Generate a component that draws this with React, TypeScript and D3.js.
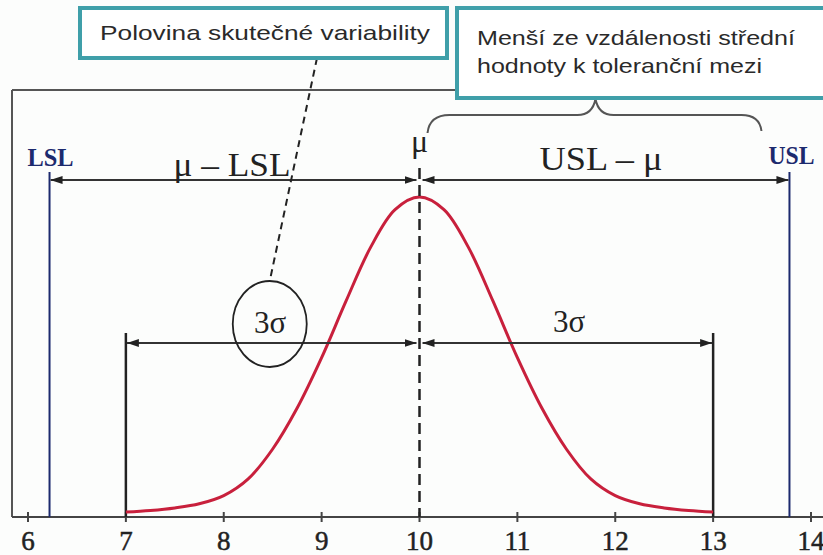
import React from "react";
import * as d3 from "d3";

// Process parameters
const MU = 10;
const LSL = 6.22;
const USL = 13.78;
const SIGMA3_LOW = 7;
const SIGMA3_HIGH = 13;

// Axis ticks
const xTicks = [6, 7, 8, 9, 10, 11, 12, 13, 14];

// Bell curve: positions and relative heights (peak = 1)
const curveX = [
  7, 7.25, 7.5, 7.75, 8, 8.25, 8.5, 8.75, 9, 9.25, 9.5, 9.75, 10,
  10.25, 10.5, 10.75, 11, 11.25, 11.5, 11.75, 12, 12.25, 12.5, 12.75, 13,
];
const curveY = [
  0.0, 0.005, 0.013, 0.026, 0.052, 0.105, 0.2, 0.33, 0.49, 0.67, 0.84, 0.96, 1,
  0.96, 0.84, 0.67, 0.49, 0.33, 0.2, 0.105, 0.052, 0.026, 0.013, 0.005, 0.0,
];

// Annotation texts
const noteLeft = "Polovina skutečné variability";
const noteRight = ["Menší ze vzdálenosti střední", "hodnoty k toleranční mezi"];

const W = 823;
const H = 555;

const TEAL = "#3f9fa9";
const INK = "#222";
const NAVY = "#1c2a6e";
const SERIF = "'Liberation Serif', 'Times New Roman', serif";
const SANS = "'Liberation Sans', Arial, sans-serif";

export default function App() {
  const x = d3.scaleLinear().domain([6, 14]).range([28, 811]);
  const y = d3.scaleLinear().domain([0, 1]).range([512, 197]);
  const axisY = 517;
  const frameLeft = 12;
  const frameTop = 90;

  const pts = curveX.map((v, i) => [v, curveY[i]] as [number, number]);
  const bell = d3
    .line<[number, number]>()
    .x((d) => x(d[0]))
    .y((d) => y(d[1]))
    .curve(d3.curveCatmullRom.alpha(0.5))(pts) as string;

  const topArrowY = 180;
  const sigArrowY = 343;
  const gap = 3;

  const braceL = x(MU) + 8;
  const braceR = x(USL) - 28;
  const braceMid = (braceL + braceR) / 2 + 1;
  const brace = `M${braceL},133 Q${braceL + 2},115 ${braceL + 22},115 L${braceMid - 18},115 Q${braceMid - 3},115 ${braceMid},99 Q${braceMid + 3},115 ${braceMid + 18},115 L${braceR - 20},115 Q${braceR - 2},115 ${braceR},131`;

  const ellipseCx = x(8.47);

  return (
    <svg
      width={W}
      height={H}
      viewBox={`0 0 ${W} ${H}`}
      style={{ position: "absolute", left: 0, top: 0, background: "#fcfdfc" }}
    >
      <defs>
        <marker
          id="arrow"
          viewBox="0 0 12 8"
          refX={12}
          refY={4}
          markerWidth={12}
          markerHeight={8}
          markerUnits="userSpaceOnUse"
          orient="auto-start-reverse"
        >
          <path d="M0,0 L12,4 L0,8 z" fill={INK} />
        </marker>
      </defs>

      {/* Frame */}
      <line x1={frameLeft} y1={frameTop} x2={frameLeft} y2={axisY} stroke="#555" strokeWidth={2} />
      <line x1={frameLeft} y1={frameTop} x2={460} y2={frameTop} stroke="#555" strokeWidth={2} />

      {/* X axis */}
      <line x1={frameLeft} y1={axisY} x2={W} y2={axisY} stroke="#444" strokeWidth={2} />
      {xTicks.map((t) => (
        <g key={t}>
          <line x1={x(t)} y1={axisY - 5} x2={x(t)} y2={axisY + 5} stroke="#444" strokeWidth={2} />
          <text
            x={x(t)}
            y={550}
            textAnchor="middle"
            fontFamily={SERIF}
            fontSize={27}
            fill={INK}
            stroke={INK}
            strokeWidth={0.5}
          >
            {t}
          </text>
        </g>
      ))}

      {/* Specification limits */}
      <line x1={x(LSL)} y1={172} x2={x(LSL)} y2={axisY} stroke={NAVY} strokeWidth={2} />
      <line x1={x(USL)} y1={172} x2={x(USL)} y2={axisY} stroke={NAVY} strokeWidth={2} />
      <text x={x(LSL) + 1} y={166} textAnchor="middle" fontFamily={SERIF} fontWeight="bold" fontSize={25} fill={NAVY} textLength={46} lengthAdjust="spacingAndGlyphs">
        LSL
      </text>
      <text x={x(USL) + 2} y={164} textAnchor="middle" fontFamily={SERIF} fontWeight="bold" fontSize={25} fill={NAVY} textLength={46} lengthAdjust="spacingAndGlyphs">
        USL
      </text>

      {/* ±3σ limits */}
      <line x1={x(SIGMA3_LOW)} y1={333} x2={x(SIGMA3_LOW)} y2={axisY} stroke={INK} strokeWidth={2.5} />
      <line x1={x(SIGMA3_HIGH)} y1={333} x2={x(SIGMA3_HIGH)} y2={axisY} stroke={INK} strokeWidth={2.5} />

      {/* Bell curve */}
      <path d={bell} fill="none" stroke="#c8203c" strokeWidth={3} />

      {/* Mean */}
      <line
        x1={x(MU)}
        y1={168}
        x2={x(MU)}
        y2={axisY}
        stroke={INK}
        strokeWidth={2.5}
        strokeDasharray="11,6"
      />
      <text x={x(MU)} y={152} textAnchor="middle" fontFamily={SERIF} fontSize={32} fill={INK}>
        μ
      </text>

      {/* Distance arrows */}
      <line
        x1={x(LSL) + 1}
        y1={topArrowY}
        x2={x(MU) - gap}
        y2={topArrowY}
        stroke="#333"
        strokeWidth={2}
        markerStart="url(#arrow)"
        markerEnd="url(#arrow)"
      />
      <line
        x1={x(MU) + gap}
        y1={topArrowY}
        x2={x(USL) - 1}
        y2={topArrowY}
        stroke="#333"
        strokeWidth={2}
        markerStart="url(#arrow)"
        markerEnd="url(#arrow)"
      />
      <line
        x1={x(SIGMA3_LOW) + 1}
        y1={sigArrowY}
        x2={x(MU) - gap}
        y2={sigArrowY}
        stroke="#333"
        strokeWidth={2}
        markerStart="url(#arrow)"
        markerEnd="url(#arrow)"
      />
      <line
        x1={x(MU) + gap}
        y1={sigArrowY}
        x2={x(SIGMA3_HIGH) - 1}
        y2={sigArrowY}
        stroke="#333"
        strokeWidth={2}
        markerStart="url(#arrow)"
        markerEnd="url(#arrow)"
      />

      {/* Distance labels */}
      <text x={232} y={176} textAnchor="middle" fontFamily={SERIF} fontSize={33} fill={INK} textLength={117} lengthAdjust="spacingAndGlyphs">
        μ – LSL
      </text>
      <text x={601} y={170} textAnchor="middle" fontFamily={SERIF} fontSize={33} fill={INK} textLength={123} lengthAdjust="spacingAndGlyphs">
        USL – μ
      </text>
      <text x={270} y={333} textAnchor="middle" fontFamily={SERIF} fontSize={31} fill={INK}>
        3σ
      </text>
      <text x={569} y={332} textAnchor="middle" fontFamily={SERIF} fontSize={31} fill={INK}>
        3σ
      </text>

      {/* Circled 3σ and leader */}
      <ellipse cx={ellipseCx} cy={324} rx={37} ry={43} fill="none" stroke={INK} strokeWidth={1.8} />
      <line x1={317} y1={58} x2={ellipseCx} y2={281} stroke={INK} strokeWidth={2} strokeDasharray="7,5" />

      {/* Brace */}
      <path d={brace} fill="none" stroke="#555" strokeWidth={2} />

      {/* Callout boxes */}
      <rect x={80} y={8} width={367} height={50} fill="#fff" stroke={TEAL} strokeWidth={4} />
      <text x={100} y={40} fontFamily={SANS} fontSize={21} fill="#2a2a2a" textLength={330} lengthAdjust="spacingAndGlyphs">
        {noteLeft}
      </text>
      <rect x={457} y={8} width={380} height={90} fill="#fff" stroke={TEAL} strokeWidth={4} />
      <text x={477} y={45} fontFamily={SANS} fontSize={21} fill="#2a2a2a" textLength={318} lengthAdjust="spacingAndGlyphs">
        {noteRight[0]}
      </text>
      <text x={477} y={73} fontFamily={SANS} fontSize={21} fill="#2a2a2a" textLength={285} lengthAdjust="spacingAndGlyphs">
        {noteRight[1]}
      </text>
    </svg>
  );
}
